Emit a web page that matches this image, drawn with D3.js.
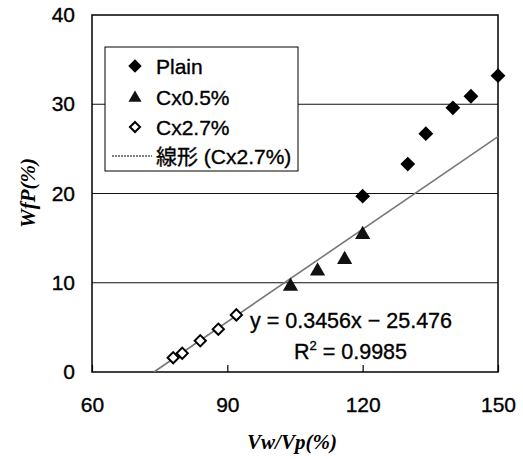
<!DOCTYPE html>
<html>
<head>
<meta charset="utf-8">
<script src="https://cdn.jsdelivr.net/npm/d3@7"></script>
<style>
  html, body { margin: 0; padding: 0; background: #fff; }
  svg text { font-family: "Liberation Sans", Arial, "Noto Sans CJK JP", sans-serif; fill: #000; stroke: #000; stroke-width: 0.35px; }
  .title { font-family: "Liberation Serif", "Times New Roman", serif !important; font-weight: bold; font-style: italic; stroke-width: 0 !important; }
</style>
</head>
<body>
<svg id="chart" width="523" height="459"></svg>
<script>
// Water absorption WfP (%) against water/powder ratio Vw/Vp (%)
const plainX = [120, 130, 134, 140, 144, 150];
const plainY = [19.7, 23.3, 26.7, 29.6, 30.9, 33.2];
const cx05X = [104, 110, 116, 120];
const cx05Y = [9.6, 11.3, 12.6, 15.4];
const cx27X = [78, 80, 84, 88, 92];
const cx27Y = [1.6, 2.1, 3.5, 4.8, 6.4];
const xTicks = [60, 90, 120, 150];
const yTicks = [0, 10, 20, 30, 40];
const slope = 0.3456, intercept = -25.476, r2 = 0.9985;

const svg = d3.select("#chart");
const m = { left: 92, right: 498, top: 15, bottom: 372 };

const x = d3.scaleLinear().domain([60, 150]).range([m.left, m.right]);
const y = d3.scaleLinear().domain([0, 40]).range([m.bottom, m.top]);

// horizontal gridlines
svg.append("g").selectAll("line")
  .data(yTicks.filter(d => d > 0 && d < 40))
  .join("line")
  .attr("x1", m.left).attr("x2", m.right)
  .attr("y1", d => y(d)).attr("y2", d => y(d))
  .attr("stroke", "#111").attr("stroke-width", 1.2);

// x axis with inward ticks
const xAxis = svg.append("g").attr("transform", `translate(0,${m.bottom})`)
  .call(d3.axisBottom(x).tickValues(xTicks).tickSize(-7).tickPadding(0).tickFormat(d3.format("d")));
xAxis.select(".domain").remove();
xAxis.selectAll("line").attr("stroke", "#000").attr("stroke-width", 1.2);
xAxis.selectAll("text").attr("font-size", 21).attr("dy", null).attr("y", 40);

// y axis labels
const yAxis = svg.append("g").attr("transform", `translate(${m.left},0)`)
  .call(d3.axisLeft(y).tickValues(yTicks).tickSize(0).tickPadding(17).tickFormat(d3.format("d")));
yAxis.select(".domain").remove();
yAxis.selectAll("text").attr("font-size", 21);

// plot frame
svg.append("rect")
  .attr("x", m.left).attr("y", m.top)
  .attr("width", m.right - m.left).attr("height", m.bottom - m.top)
  .attr("fill", "none").attr("stroke", "#000").attr("stroke-width", 1.5);

// linear trend for Cx2.7%
const x0 = -intercept / slope;
svg.append("line")
  .attr("x1", x(x0)).attr("y1", y(0))
  .attr("x2", x(150)).attr("y2", y(slope * 150 + intercept))
  .attr("stroke", "#777").attr("stroke-width", 1.6);

const diamond = d3.symbol().type(d3.symbolDiamond2);
const tri = d3.symbol().type(d3.symbolTriangle);

// Plain: filled diamonds
svg.append("g").selectAll("path")
  .data(d3.zip(plainX, plainY)).join("path")
  .attr("transform", d => `translate(${x(d[0])},${y(d[1])})`)
  .attr("d", diamond.size(140)).attr("fill", "#000");

// Cx0.5%: filled triangles
svg.append("g").selectAll("path")
  .data(d3.zip(cx05X, cx05Y)).join("path")
  .attr("transform", d => `translate(${x(d[0])},${y(d[1])})`)
  .attr("d", tri.size(100)).attr("fill", "#111");

// Cx2.7%: open diamonds
svg.append("g").selectAll("path")
  .data(d3.zip(cx27X, cx27Y)).join("path")
  .attr("transform", d => `translate(${x(d[0])},${y(d[1])})`)
  .attr("d", diamond.size(80)).attr("fill", "#fff")
  .attr("stroke", "#000").attr("stroke-width", 2);

// regression equation
svg.append("text").attr("x", 250).attr("y", 328).attr("font-size", 21.5)
  .text(`y = ${slope}x \u2212 ${Math.abs(intercept)}`);
const r2t = svg.append("text").attr("x", 294).attr("y", 359).attr("font-size", 21.5);
r2t.append("tspan").text("R");
r2t.append("tspan").attr("font-size", 13).attr("dy", -9).text("2");
r2t.append("tspan").attr("dy", 9).text(` = ${r2}`);

// legend
const lg = svg.append("g");
lg.append("rect").attr("x", 105).attr("y", 47).attr("width", 193).attr("height", 124)
  .attr("fill", "#fff").attr("stroke", "#000").attr("stroke-width", 1);
const legendNames = ["Plain", "Cx0.5%", "Cx2.7%", "線形 (Cx2.7%)"];
const ly = [66, 97, 127, 156];
legendNames.forEach((name, i) => {
  lg.append("text").attr("x", 156).attr("y", ly[i]).attr("dy", "0.36em")
    .attr("font-size", 21).text(name);
});
lg.append("path").attr("transform", `translate(135,${ly[0]})`).attr("d", diamond.size(115)).attr("fill", "#000");
lg.append("path").attr("transform", `translate(135,${ly[1] + 1})`).attr("d", tri.size(75)).attr("fill", "#111");
lg.append("path").attr("transform", `translate(135,${ly[2]})`).attr("d", diamond.size(65))
  .attr("fill", "#fff").attr("stroke", "#000").attr("stroke-width", 2);
lg.append("line").attr("x1", 112).attr("x2", 152).attr("y1", ly[3]).attr("y2", ly[3])
  .attr("stroke", "#555").attr("stroke-width", 1.4).attr("stroke-dasharray", "2,1");

// axis titles
svg.append("text").attr("class", "title").attr("x", 292).attr("y", 449)
  .attr("text-anchor", "middle").attr("font-size", 21).text("Vw/Vp(%)");
svg.append("text").attr("class", "title")
  .attr("transform", "translate(35,193) rotate(-90)")
  .attr("text-anchor", "middle").attr("font-size", 21).text("WfP(%)");
</script>
</body>
</html>
